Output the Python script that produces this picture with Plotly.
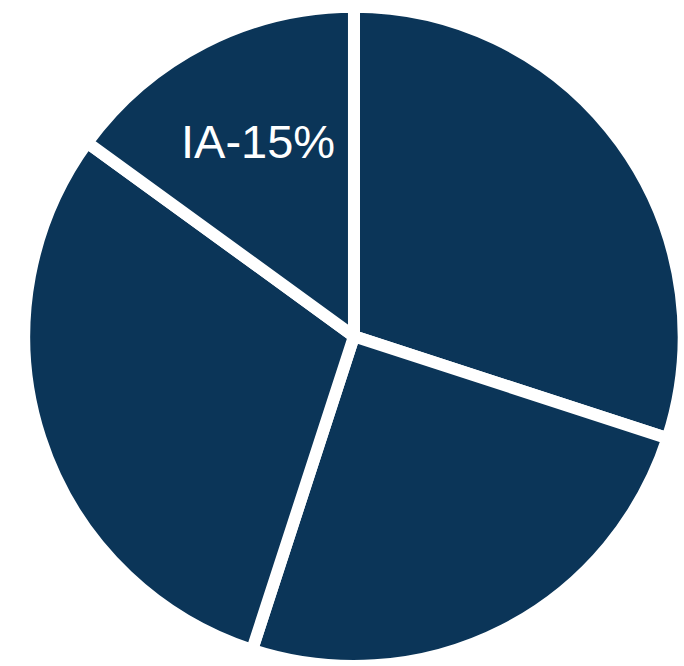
import plotly.graph_objects as go

# Share of each segment, listed clockwise from 12 o'clock
labels = ["Segment A", "Segment B", "Segment C", "IA"]
values = [30, 25, 30, 15]
labelled = "IA"  # the only segment carrying a caption

navy = "#0b3558"

fig = go.Figure(
    go.Pie(
        labels=labels,
        values=values,
        textinfo="none",
        marker=dict(colors=[navy] * len(values), line=dict(color="white", width=12)),
        sort=False,
        direction="clockwise",
        rotation=0,
        hoverinfo="label+percent",
        domain=dict(x=[0.035, 1.0], y=[0.0, 0.99]),
    )
)

# caption inside the labelled segment, built from its value
idx = labels.index(labelled)
fig.add_annotation(
    text=f"{labels[idx]}-{values[idx]}%",
    x=0.3772,
    y=0.7868,
    xref="paper",
    yref="paper",
    xanchor="center",
    yanchor="middle",
    showarrow=False,
    font=dict(family="Liberation Sans, Arial, sans-serif", size=47, color="white"),
)

fig.update_layout(
    width=684,
    height=666,
    margin=dict(l=0, r=0, t=0, b=0),
    showlegend=False,
    paper_bgcolor="white",
    plot_bgcolor="white",
)

fig.write_html("out.html")
